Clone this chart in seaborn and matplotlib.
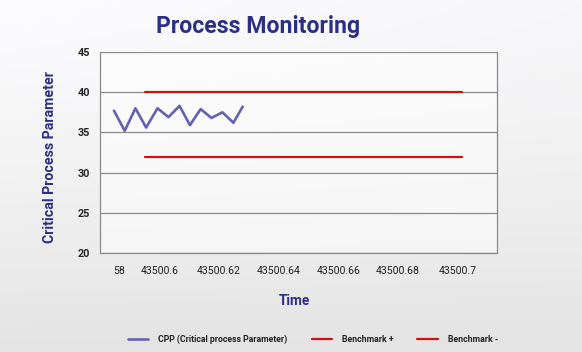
import numpy as np
import pandas as pd
import matplotlib
matplotlib.use("Agg")
import matplotlib.pyplot as plt
import matplotlib.transforms as mtransforms
import seaborn as sns

# Data (Excel serial time on x)
cpp_time = [43500.5847, 43500.5883, 43500.5919, 43500.5955, 43500.5993, 43500.6030,
            43500.6067, 43500.6102, 43500.6138, 43500.6174, 43500.6211, 43500.6248, 43500.6279]
cpp_value = [37.7, 35.2, 38.0, 35.6, 38.0, 36.9, 38.3, 35.9, 37.9, 36.8, 37.5, 36.2, 38.2]
bench_time = [43500.5952, 43500.7017]
bench_plus = [40, 40]
bench_minus = [32, 32]
x_ticks = [43500.58, 43500.60, 43500.62, 43500.64, 43500.66, 43500.68, 43500.70]
x_labels = ["58", "43500.6", "43500.62", "43500.64", "43500.66", "43500.68", "43500.7"]
y_ticks = [20, 25, 30, 35, 40, 45]

navy = "#2b2f85"
purple = "#6462b0"
red = "#d10f14"
grid = "#8a8a8a"

sns.set_style("white")
plt.rcParams['font.family'] = ['Roboto', 'DejaVu Sans']

fig = plt.figure(figsize=(5.82, 3.52), dpi=100)

# soft screenshot-like background gradient
bg = fig.add_axes([0, 0, 1, 1], zorder=-10)
yy, xx = np.mgrid[0:1:200j, 0:1:300j]
shade = 252 - 24 * yy ** 1.3 - 5 * xx * (1 - yy)
bg.imshow(np.dstack([shade, shade, shade + 2 * (1 - yy)]).clip(0, 255).astype(np.uint8),
          aspect="auto", extent=[0, 1, 0, 1])
bg.axis("off")

ax = fig.add_axes([100 / 582, 99 / 352, 397 / 582, 201 / 352])
ax.set_facecolor((1, 1, 1, 0.55))

sns.lineplot(x=cpp_time, y=cpp_value, ax=ax, color=purple, linewidth=1.9,
             label="CPP (Critical process Parameter)")
sns.lineplot(x=bench_time, y=bench_plus, ax=ax, color=red, linewidth=1.6, label="Benchmark +")
sns.lineplot(x=bench_time, y=bench_minus, ax=ax, color=red, linewidth=1.6, label="Benchmark -")

ax.set_xlim(43500.58, 43500.7133)
ax.set_ylim(20, 45)
ax.set_yticks(y_ticks)
ax.set_xticks(x_ticks)
ax.set_xticklabels(x_labels)
ax.yaxis.grid(True, color=grid, linewidth=0.9)
ax.set_axisbelow(True)
for s in ax.spines.values():
    s.set_color(grid)
    s.set_linewidth(0.9)
ax.spines["top"].set_visible(False)

ax.tick_params(axis="x", length=0, pad=9, labelsize=7.6, labelcolor="#222222")
ax.tick_params(axis="y", length=4, color=grid, width=0.9, pad=3, labelsize=7.8)
for t in ax.get_yticklabels():
    t.set_fontweight("bold")
# first x label is cut off in the original, shift what's visible to the right
first = ax.get_xticklabels()[0]
first.set_transform(first.get_transform() + mtransforms.ScaledTranslation(19 / 100, 0, fig.dpi_scale_trans))

ax.set_xlabel("")
ax.set_ylabel("")
fig.text(50 / 582, 1 - 157 / 352, "Critical Process Parameter", rotation=90, ha="center", va="center",
         color=navy, fontsize=10.2, fontweight="bold")
fig.text(294 / 582, 1 - 301 / 352, "Time", ha="center", va="center",
         color=navy, fontsize=9.8, fontweight="bold")
fig.text(258 / 582, 1 - 27 / 352, "Process Monitoring", ha="center", va="center",
         color=navy, fontsize=16.6, fontweight="bold")

handles, labels = ax.get_legend_handles_labels()
ax.get_legend().remove()
fig.legend(handles, labels, loc="center", bbox_to_anchor=(313 / 582, 1 - 339 / 352), ncol=3,
           frameon=False, prop={"size": 6.3, "weight": "bold"}, handlelength=2.3,
           handletextpad=1.15, columnspacing=2.75, labelcolor="#222222")

fig.savefig("out.png", dpi=100)
